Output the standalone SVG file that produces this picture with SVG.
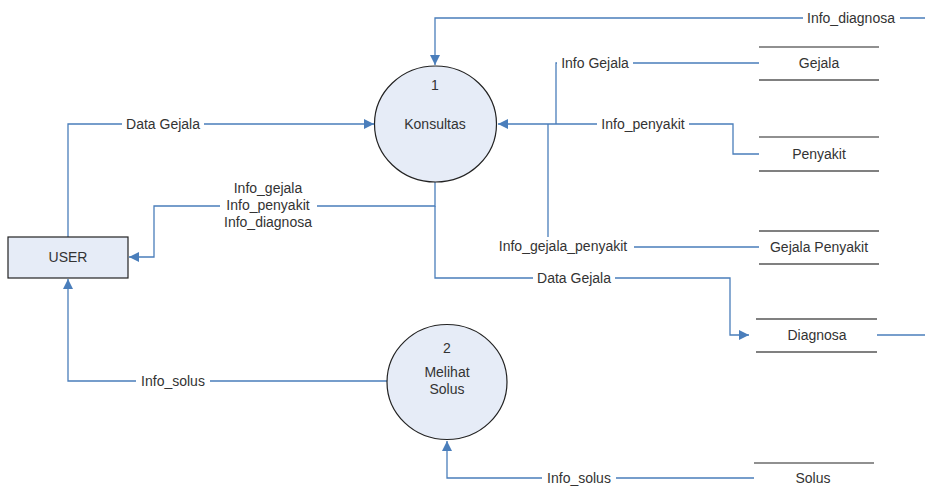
<svg xmlns="http://www.w3.org/2000/svg" width="925" height="493" viewBox="0 0 925 493">
<defs>
<style>
.t{font-family:"Liberation Sans",Arial,sans-serif;font-size:14px;fill:#333;text-anchor:middle;dominant-baseline:central}
.c{fill:none;stroke:#4a7ebb;stroke-width:1.3}
.lb{fill:#fff;stroke:none}
.proc{fill:#e6ecf7;stroke:#222;stroke-width:1.2}
.top{stroke:#222;stroke-width:1.2}
.bot{stroke:#808080;stroke-width:2}
</style>
<marker id="ah" viewBox="0 0 10 10" refX="10" refY="5" markerWidth="10" markerHeight="10" markerUnits="userSpaceOnUse" orient="auto">
<path d="M0,0 L10,5 L0,10 z" fill="#4a7ebb"/>
</marker>
</defs>
<rect width="925" height="493" fill="#fff"/>

<g id="connectors">
<path class="c" d="M925,18 H435 V65" marker-end="url(#ah)"/>
<path class="c" d="M759,63 H556 V124"/>
<path class="c" d="M759,154 H733 V124 H498" marker-end="url(#ah)"/>
<path class="c" d="M759,247 H548 V124"/>
<path class="c" d="M68,237 V124 H374" marker-end="url(#ah)"/>
<path class="c" d="M435,182 V206 H154 V257 H129" marker-end="url(#ah)"/>
<path class="c" d="M435,206 V278 H730 V335 H749" marker-end="url(#ah)"/>
<path class="c" d="M877,335 H925"/>
<path class="c" d="M387,381 H68 V279" marker-end="url(#ah)"/>
<path class="c" d="M754,478 H447 V441" marker-end="url(#ah)"/>

<rect class="lb" x="803" y="10" width="97" height="16"/>
<text class="t" x="851" y="18">Info_diagnosa</text>
<rect class="lb" x="557" y="55" width="76" height="16"/>
<text class="t" x="595" y="63">Info Gejala</text>
<rect class="lb" x="597" y="116" width="92" height="16"/>
<text class="t" x="643" y="124">Info_penyakit</text>
<rect class="lb" x="492" y="237" width="142" height="18"/>
<text class="t" x="563" y="246">Info_gejala_penyakit</text>
<rect class="lb" x="122" y="116" width="82" height="16"/>
<text class="t" x="163" y="124">Data Gejala</text>
<rect class="lb" x="220" y="178" width="97" height="52"/>
<text class="t" x="268" y="188">Info_gejala</text>
<text class="t" x="268" y="205">Info_penyakit</text>
<text class="t" x="268" y="222">Info_diagnosa</text>
<rect class="lb" x="533" y="270" width="82" height="16"/>
<text class="t" x="574" y="278">Data Gejala</text>
<rect class="lb" x="136" y="373" width="74" height="16"/>
<text class="t" x="173" y="381">Info_solus</text>
<rect class="lb" x="542" y="470" width="74" height="16"/>
<text class="t" x="579" y="478">Info_solus</text>
</g>

<g id="konsultas">
<ellipse class="proc" cx="435.5" cy="124" rx="61" ry="58"/>
<text class="t" x="435" y="85">1</text>
<text class="t" x="435" y="124">Konsultas</text>
</g>

<g id="melihat-solus">
<ellipse class="proc" cx="447" cy="382" rx="60" ry="57.5"/>
<text class="t" x="447" y="348">2</text>
<text class="t" x="447" y="372">Melihat</text>
<text class="t" x="447" y="389">Solus</text>
</g>

<g id="user">
<rect class="proc" x="8" y="237" width="120" height="41"/>
<text class="t" x="68" y="257">USER</text>
</g>

<g id="gejala">
<line class="top" x1="759" y1="47" x2="879" y2="47"/>
<line class="bot" x1="759" y1="80" x2="879" y2="80"/>
<text class="t" x="819" y="63">Gejala</text>
</g>

<g id="penyakit">
<line class="top" x1="759" y1="137" x2="879" y2="137"/>
<line class="bot" x1="759" y1="171" x2="879" y2="171"/>
<text class="t" x="819" y="154">Penyakit</text>
</g>

<g id="gejala-penyakit">
<line class="bot" x1="759" y1="231" x2="879" y2="231"/>
<line class="bot" x1="759" y1="264" x2="879" y2="264"/>
<text class="t" x="819" y="247">Gejala Penyakit</text>
</g>

<g id="diagnosa">
<line class="bot" x1="756" y1="319" x2="877" y2="319"/>
<line class="bot" x1="756" y1="352" x2="877" y2="352"/>
<text class="t" x="817" y="335">Diagnosa</text>
</g>

<g id="solus">
<line class="top" x1="754" y1="463" x2="874" y2="463"/>
<text class="t" x="813" y="478">Solus</text>
</g>
</svg>
